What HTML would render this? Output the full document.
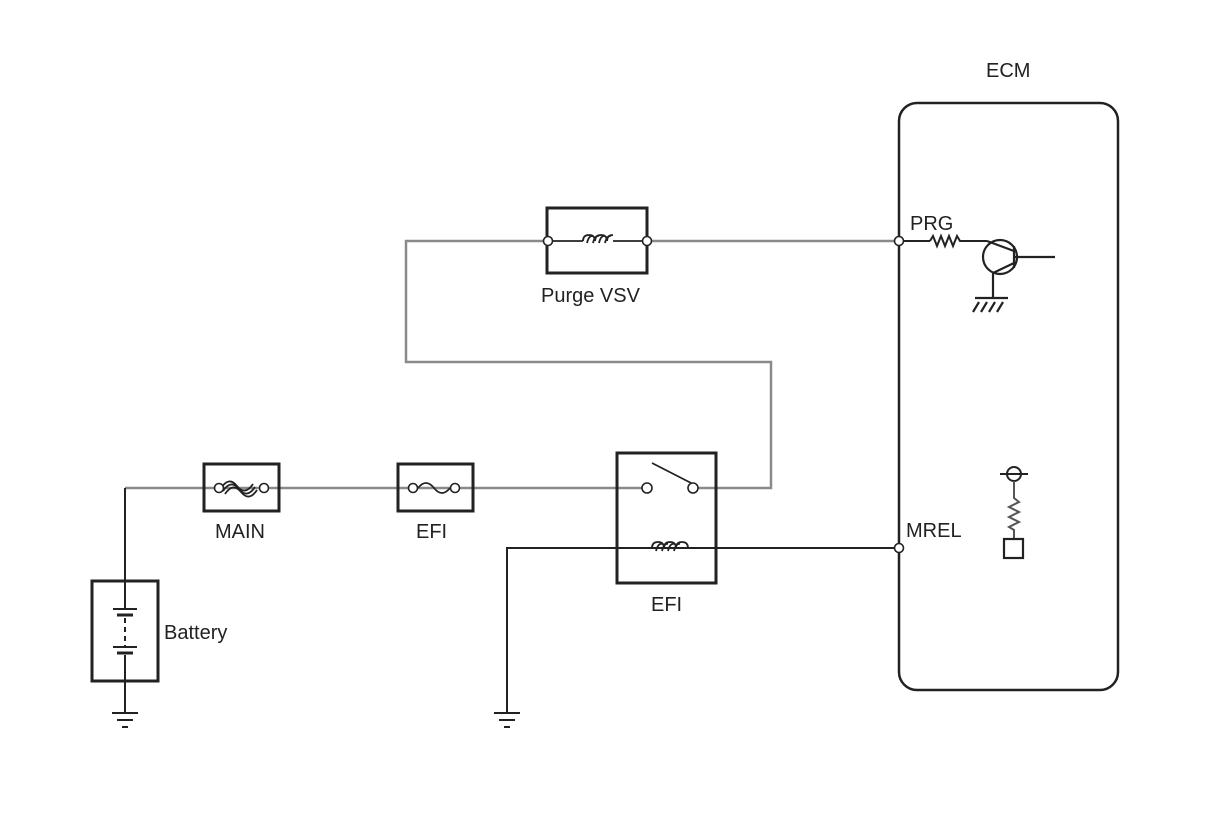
<!DOCTYPE html>
<html><head><meta charset="utf-8"><style>
html,body{margin:0;padding:0;background:#fff;}
svg text{font-family:"Liberation Sans",Arial,sans-serif;font-size:20px;fill:#222;}
</style></head><body>
<svg width="1210" height="814" viewBox="0 0 1210 814" xmlns="http://www.w3.org/2000/svg">
<g fill="none" stroke-linecap="butt">
<!-- gray wires -->
<g stroke="#8a8a8a" stroke-width="2.5">
<polyline points="548,241 406,241 406,362 771,362 771,488 697,488"/>
<line x1="647" y1="241" x2="899" y2="241"/>
<line x1="125" y1="488" x2="643" y2="488"/>
</g>
<!-- black wires -->
<g stroke="#222" stroke-width="2">
<polyline points="899,548 507,548 507,713"/>
<line x1="125" y1="488" x2="125" y2="606"/>
<line x1="125" y1="655" x2="125" y2="713"/>
<line x1="899" y1="241" x2="930" y2="241"/>
<polyline points="930,241 933,236 937,246 941,236 945,246 949,236 953,246 957,236 960,241 987,241"/>
</g>
<!-- ECM -->
<rect x="899" y="103" width="219" height="587" rx="18" stroke="#222" stroke-width="2.5"/>
<!-- boxes -->
<g stroke="#222" stroke-width="3">
<rect x="547" y="208" width="100" height="65"/>
<rect x="204" y="464" width="75" height="47"/>
<rect x="398" y="464" width="75" height="47"/>
<rect x="617" y="453" width="99" height="130"/>
<rect x="92" y="581" width="66" height="100"/>
</g>
<!-- purge coil -->
<g stroke="#222" stroke-width="1.8" fill="#fff">
<line x1="553" y1="241" x2="583" y2="241"/>
<line x1="613" y1="241" x2="642" y2="241"/>
<path d="M583,241 q0,-6 6,-6 q6,0 6,6 q0,-6 6,-6 q6,0 6,6 q0,-6 6,-6" fill="none"/>
<path d="M587,243 q2,-8 6,-7 M593,243 q2,-8 6,-7 M599,243 q2,-8 6,-7 M605,243 q2,-8 6,-7" fill="none"/>
</g>
<!-- relay coil -->
<g stroke="#222" stroke-width="1.8" fill="none">
<path d="M652,548 q0,-6 6,-6 q6,0 6,6 q0,-6 6,-6 q6,0 6,6 q0,-6 6,-6 q6,0 6,6"/>
<path d="M656,551 q2,-8 6,-7 M662,551 q2,-8 6,-7 M668,551 q2,-8 6,-7 M674,551 q2,-8 6,-7"/>
<line x1="652" y1="463" x2="693" y2="484"/>
</g>
<!-- fuses -->
<g stroke="#222" stroke-width="1.8" fill="none">
<path d="M221,488 q8,-12 16,-2 q8,10 16,-2"/>
<path d="M223,491 q8,-12 16,-2 q8,10 16,-2"/>
<path d="M225,494 q8,-12 16,-2 q8,10 16,-2"/>
<path d="M418,488 q8,-10 16,0 q8,10 16,0"/>
</g>
<!-- terminals -->
<g stroke="#222" stroke-width="1.6" fill="#fff">
<circle cx="548" cy="241" r="4.5"/><circle cx="647" cy="241" r="4.5"/>
<circle cx="899" cy="241" r="4.5"/><circle cx="899" cy="548" r="4.5"/>
<circle cx="219" cy="488" r="4.5"/><circle cx="264" cy="488" r="4.5"/>
<circle cx="413" cy="488" r="4.5"/><circle cx="455" cy="488" r="4.5"/>
<circle cx="647" cy="488" r="5"/><circle cx="693" cy="488" r="5"/>
</g>
<!-- battery -->
<g stroke="#222" stroke-width="2">
<line x1="113" y1="609" x2="137" y2="609"/>
<line x1="117" y1="615" x2="133" y2="615" stroke-width="3"/>
<line x1="125" y1="618" x2="125" y2="646" stroke-dasharray="5,4"/>
<line x1="113" y1="647" x2="137" y2="647"/>
<line x1="117" y1="653" x2="133" y2="653" stroke-width="3"/>
<line x1="125" y1="606" x2="125" y2="609"/>
<!-- grounds -->
<line x1="112" y1="713" x2="138" y2="713"/><line x1="117" y1="720" x2="133" y2="720"/><line x1="122" y1="727" x2="128" y2="727"/>
<line x1="494" y1="713" x2="520" y2="713"/><line x1="499" y1="720" x2="515" y2="720"/><line x1="504" y1="727" x2="510" y2="727"/>
</g>
<!-- transistor -->
<g stroke="#222" stroke-width="2.2" fill="none">
<circle cx="1000" cy="257" r="17"/>
<line x1="1014" y1="246" x2="1014" y2="268"/>
<line x1="1014" y1="257" x2="1055" y2="257"/>
<line x1="987" y1="241" x2="1014" y2="251"/>
<line x1="1014" y1="263" x2="993" y2="273"/>
<line x1="993" y1="273" x2="993" y2="298"/>
<line x1="975" y1="298" x2="1008" y2="298"/>
<line x1="979" y1="302" x2="973" y2="312"/><line x1="987" y1="302" x2="981" y2="312"/><line x1="995" y1="302" x2="989" y2="312"/><line x1="1003" y1="302" x2="997" y2="312"/>
</g>
<!-- MREL part -->
<g stroke="#222" stroke-width="2" fill="none">
<circle cx="1014" cy="474" r="7"/>
<line x1="1000" y1="474" x2="1028" y2="474"/>
<polyline points="1014,481 1014,498 1019,502 1009,507 1019,512 1009,517 1019,522 1009,527 1014,530 1014,539" stroke="#555"/>
<rect x="1004" y="539" width="19" height="19" stroke-width="2.2"/>
</g>
</g>
<text x="986" y="77">ECM</text>
<text x="910" y="230">PRG</text>
<text x="906" y="537">MREL</text>
<text x="541" y="302">Purge VSV</text>
<text x="215" y="538">MAIN</text>
<text x="416" y="538">EFI</text>
<text x="651" y="611">EFI</text>
<text x="164" y="639">Battery</text>
</svg>
</body></html>
